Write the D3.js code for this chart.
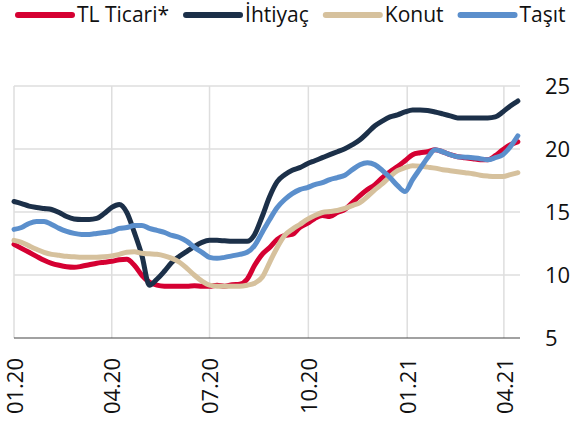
<!DOCTYPE html>
<html>
<head>
<meta charset="utf-8">
<script src="https://cdn.jsdelivr.net/npm/d3@7"></script>
<style>
    body { margin: 0; background: #fff; }
    svg { display: block; font-family: "Open Sans", sans-serif; }
</style>
</head>
<body>
<div id="d3-container"></div>
<script>
// Weekly series, first week starting 01.01.2020
var startDate = new Date(2020, 0, 1);

var seriesNames = ["TL Ticari*", "İhtiyaç", "Konut", "Taşıt"];
var seriesColors = ["#d50032", "#1c3049", "#d6c19d", "#5b8fcc"];

var tlTicari = [12.43, 12.11, 11.80, 11.48, 11.17, 10.93, 10.77, 10.65, 10.61, 10.69,
    10.81, 10.93, 11.01, 11.09, 11.21, 11.25, 10.77, 9.98, 9.43, 9.19,
    9.11, 9.11, 9.11, 9.11, 9.15, 9.11, 9.11, 9.19, 9.11, 9.23,
    9.27, 9.66, 10.77, 11.64, 12.19, 12.83, 13.14, 13.22, 13.77, 14.09,
    14.49, 14.72, 14.64, 14.96, 15.20, 15.75, 16.30, 16.78, 17.17, 17.73,
    18.20, 18.60, 19.07, 19.55, 19.70, 19.78, 19.94, 19.78, 19.55, 19.39,
    19.31, 19.23, 19.15, 19.15, 19.47, 19.94, 20.34, 20.57];

var ihtiyac = [15.83, 15.67, 15.47, 15.36, 15.28, 15.20, 14.96, 14.64, 14.45, 14.41,
    14.41, 14.49, 14.88, 15.36, 15.59, 14.96, 13.38, 11.57, 9.19, 9.66,
    10.30, 11.01, 11.48, 11.88, 12.27, 12.59, 12.75, 12.75, 12.71, 12.67,
    12.67, 12.67, 13.22, 14.64, 16.23, 17.41, 17.96, 18.32, 18.52, 18.83,
    19.07, 19.31, 19.55, 19.78, 20.02, 20.34, 20.73, 21.28, 21.84, 22.23,
    22.55, 22.71, 22.94, 23.10, 23.10, 23.06, 22.94, 22.79, 22.63, 22.47,
    22.47, 22.47, 22.47, 22.47, 22.55, 22.94, 23.42, 23.81];

var konut = [12.75, 12.59, 12.31, 12.04, 11.80, 11.64, 11.56, 11.48, 11.44, 11.40,
    11.40, 11.40, 11.44, 11.52, 11.64, 11.80, 11.84, 11.72, 11.68, 11.64,
    11.52, 11.32, 11.01, 10.53, 9.98, 9.51, 9.19, 9.11, 9.11, 9.11,
    9.11, 9.19, 9.35, 9.82, 11.01, 12.19, 13.14, 13.62, 14.01, 14.41,
    14.72, 14.96, 15.04, 15.12, 15.28, 15.51, 15.75, 16.23, 16.78, 17.25,
    17.81, 18.28, 18.52, 18.68, 18.64, 18.56, 18.48, 18.36, 18.28, 18.20,
    18.12, 18.04, 17.92, 17.85, 17.81, 17.81, 17.96, 18.12];

var tasit = [13.62, 13.77, 14.09, 14.25, 14.25, 14.01, 13.70, 13.46, 13.30, 13.22,
    13.22, 13.30, 13.38, 13.46, 13.70, 13.77, 13.93, 13.93, 13.70, 13.54,
    13.38, 13.14, 12.98, 12.67, 12.19, 11.80, 11.40, 11.32, 11.40, 11.52,
    11.64, 11.80, 12.35, 13.38, 14.41, 15.36, 15.99, 16.46, 16.78, 16.94,
    17.17, 17.33, 17.57, 17.73, 17.92, 18.36, 18.75, 18.91, 18.75, 18.28,
    17.73, 17.09, 16.62, 17.57, 18.44, 19.31, 19.94, 19.78, 19.55, 19.39,
    19.35, 19.31, 19.23, 19.15, 19.31, 19.55, 20.18, 21.05];

var xTickDates = ["2020-01-01", "2020-04-01", "2020-07-01", "2020-10-01", "2021-01-01", "2021-04-01"];
var yTicks = [5, 10, 15, 20, 25];

// Size of the picture
var width = 584;
var height = 423;

// Plot area
var plot = {
    left: 14,
    right: 520,
    top: 86,
    bottom: 338
};

var svg = d3.select("#d3-container").append("svg")
    .attr("width", width)
    .attr("height", height);

var parseDay = d3.timeParse("%Y-%m-%d");
var formatTick = d3.timeFormat("%m.%y");

// Scales
var xScale = d3.scaleTime()
    .domain([parseDay("2020-01-01"), parseDay("2021-04-16")])
    .range([plot.left, plot.right]);

var yScale = d3.scaleLinear()
    .domain([5, 25])
    .range([plot.bottom, plot.top]);

// Gridlines
var gridG = svg.append("g").attr("class", "grid");

gridG.selectAll("line.h")
    .data(yTicks.filter(function(d) { return d > 5; }))
    .enter().append("line")
    .attr("class", "h")
    .attr("x1", plot.left)
    .attr("x2", plot.right)
    .attr("y1", function(d) { return yScale(d); })
    .attr("y2", function(d) { return yScale(d); })
    .attr("stroke", "#dedede")
    .attr("stroke-width", 1.5);

gridG.selectAll("line.v")
    .data(xTickDates.map(parseDay))
    .enter().append("line")
    .attr("class", "v")
    .attr("x1", function(d) { return xScale(d); })
    .attr("x2", function(d) { return xScale(d); })
    .attr("y1", plot.top)
    .attr("y2", plot.bottom)
    .attr("stroke", "#dedede")
    .attr("stroke-width", 1.5);

// Bottom axis line
svg.append("line")
    .attr("x1", plot.left)
    .attr("x2", plot.right)
    .attr("y1", yScale(5))
    .attr("y2", yScale(5))
    .attr("stroke", "#444")
    .attr("stroke-width", 1.2);

// Right axis (labels only)
var yAxis = d3.axisRight(yScale)
    .tickValues(yTicks)
    .tickSize(0)
    .tickPadding(25);

var yAxisG = svg.append("g")
    .attr("transform", "translate(" + plot.right + ",0)")
    .call(yAxis);
yAxisG.select(".domain").remove();
yAxisG.selectAll("text")
    .style("font-family", "'Open Sans', sans-serif")
    .style("font-size", "22px")
    .attr("fill", "#111");

// Bottom labels, rotated
var xLabelG = svg.append("g");
xLabelG.selectAll("text")
    .data(xTickDates.map(parseDay))
    .enter().append("text")
    .attr("transform", function(d) {
        return "translate(" + (xScale(d) + 1) + ",358) rotate(-90)";
    })
    .attr("text-anchor", "end")
    .attr("dy", "0.35em")
    .style("font-size", "22px")
    .attr("fill", "#111")
    .text(function(d) { return formatTick(d); });

// Lines
var allSeries = [tlTicari, ihtiyac, konut, tasit];

var line = d3.line()
    .x(function(d, i) { return xScale(d3.timeDay.offset(startDate, 7 * i)); })
    .y(function(d) { return yScale(d); })
    .curve(d3.curveMonotoneX);

var linesG = svg.append("g");
allSeries.forEach(function(values, k) {
    linesG.append("path")
        .attr("d", line(values))
        .attr("fill", "none")
        .attr("stroke", seriesColors[k])
        .attr("stroke-width", 5)
        .attr("stroke-linejoin", "round")
        .attr("stroke-linecap", "round");
});

// Legend
var legendG = svg.append("g");
var legendX = 18;
var legendY = 15;
seriesNames.forEach(function(name, k) {
    legendG.append("line")
        .attr("x1", legendX)
        .attr("x2", legendX + 54)
        .attr("y1", legendY)
        .attr("y2", legendY)
        .attr("stroke", seriesColors[k])
        .attr("stroke-width", 6)
        .attr("stroke-linecap", "round");
    var label = legendG.append("text")
        .attr("x", legendX + 59)
        .attr("y", legendY)
        .attr("dy", "0.35em")
        .style("font-size", "21px")
        .attr("fill", "#111")
        .text(name);
    legendX = legendX + 59 + label.node().getComputedTextLength() + 17;
});
</script>
</body>
</html>
